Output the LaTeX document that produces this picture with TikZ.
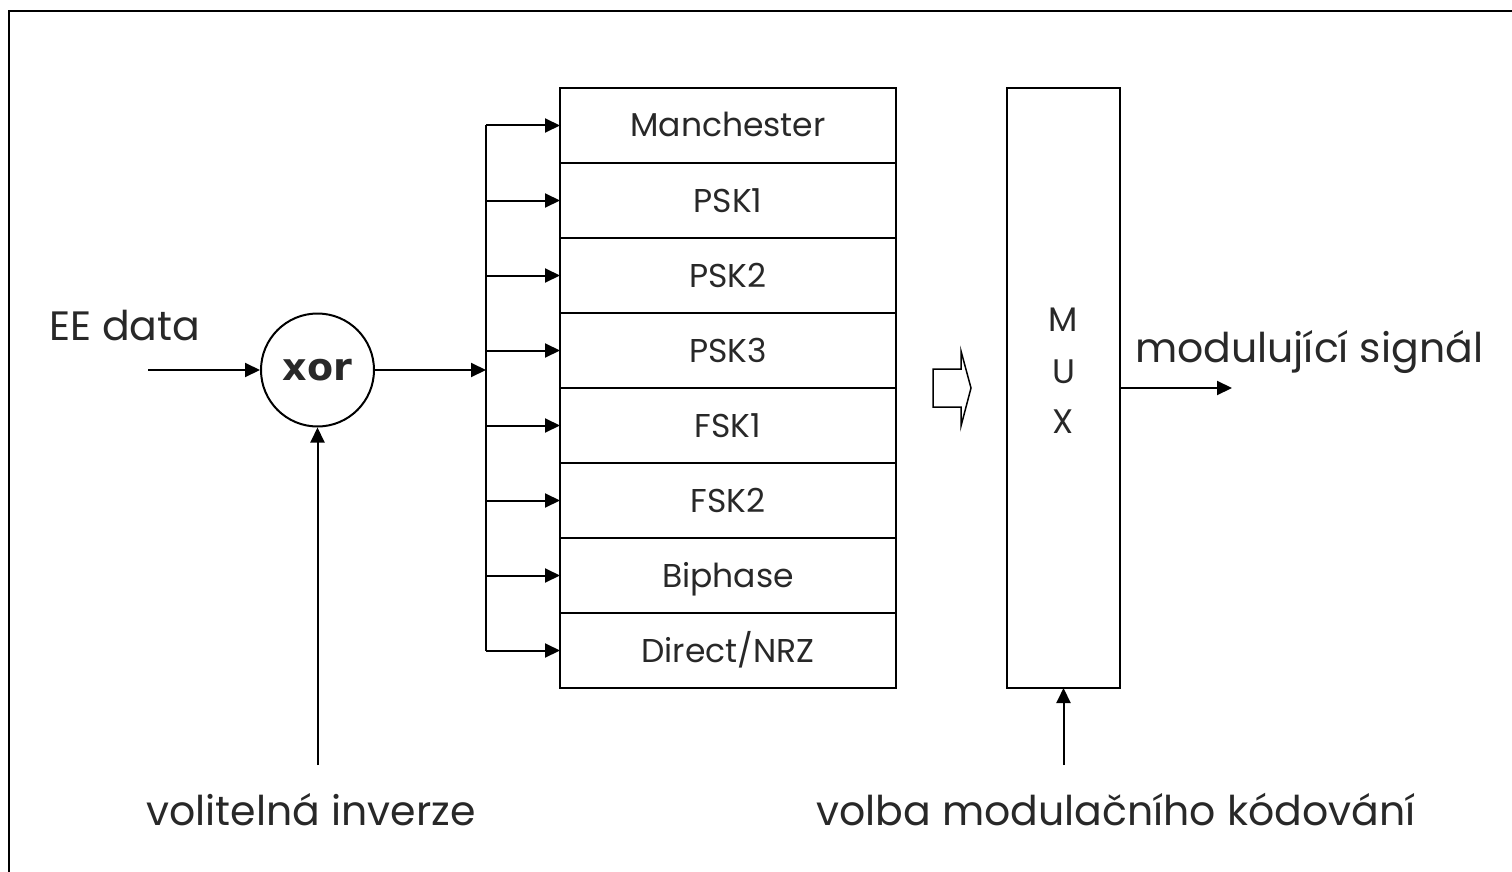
\documentclass[tikz,border=0pt]{standalone}
\usepackage{fontspec}
\setmainfont{Poppins}
\newfontfamily\xorfont{DejaVu Sans}
\usetikzlibrary{arrows.meta}
\definecolor{txt}{RGB}{40,40,40}
\begin{document}
\begin{tikzpicture}[x=1pt,y=-1pt, line width=2pt,
  arr/.style={-{Triangle[length=15pt,width=14pt]}},
  rowbox/.style={draw, minimum width=336pt, minimum height=75pt, inner sep=0pt, outer sep=0pt,
    text height=23pt, text depth=0pt, font=\fontsize{33}{36}\selectfont, text=txt},
  lbl/.style={font=\fontsize{34}{36}\selectfont, text=txt, inner sep=0pt},
  big/.style={font=\fontsize{41}{44}\selectfont, text=txt, inner sep=0pt},
 ]
\useasboundingbox (0,0) rectangle (1512,872);
\draw[line width=2.5pt] (9,872) -- (9,11) -- (1512,11);

\foreach \lab [count=\i] in {Manchester,PSK1,PSK2,PSK3,FSK1,FSK2,Biphase,Direct/NRZ}
  \node[rowbox] (r\i) at (728,{88+75*(\i-0.5)}) {\lab};

\coordinate (bus) at (486,370);
\draw (r1.west -| bus) -- (r8.west -| bus);
\foreach \i in {1,...,8}
  \draw[arr] (r\i.west -| bus) -- (r\i.west);

\node[draw, circle, minimum size=113pt, inner sep=0pt, text=txt,
  font=\xorfont\bfseries\fontsize{38}{40}\selectfont] (xor) at (317.5,370) {xor};
\coordinate (in) at (148,370);
\draw[arr] (in) -- (xor.west);
\draw[arr] (xor.east) -- (bus);
\coordinate (inv) at (317.5,765);
\draw[arr] (inv) -- (xor.south);

\node[draw, minimum width=113pt, minimum height=600pt, inner sep=0pt, outer sep=0pt] (mux) at (1063.5,388) {};
\node[lbl, anchor=base] (mM) at (1063.5,331) {M};
\node[lbl, anchor=base] (mU) at (1063.5,383) {U};
\node[lbl, anchor=base] (mX) at (1063.5,433) {X};
\coordinate (out) at (1232,388);
\draw[arr] (mux.east) -- (out);
\coordinate (sel) at (1063.5,765);
\draw[arr] (sel) -- (mux.south);

\draw[line width=1.5pt, line join=miter] (933,369) -- (961,369) -- (961,351) -- (971,388) -- (961,426) -- (961,407) -- (933,407) -- cycle;

\node[big, anchor=base west] (ee) at (48,340) {EE data};
\node[big, anchor=base west] (mod) at (1134,362) {modulující signál};
\node[big, anchor=base] (vi) at (311,825) {volitelná inverze};
\node[big, anchor=base] (vm) at (1116,825) {volba modulačního kódování};
\end{tikzpicture}
\end{document}
